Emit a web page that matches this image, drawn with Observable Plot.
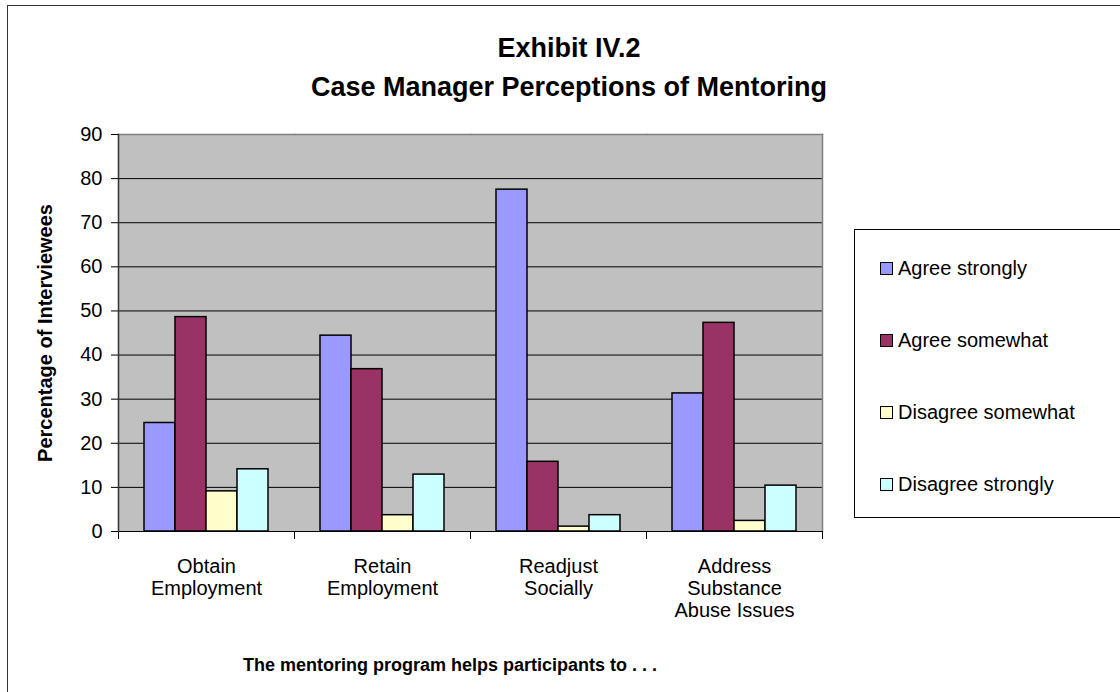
<!DOCTYPE html>
<html>
<head>
<meta charset="utf-8">
<script src="https://cdn.jsdelivr.net/npm/d3@7"></script>
<script src="https://cdn.jsdelivr.net/npm/@observablehq/plot@0.6"></script>
<style>
  html, body { margin: 0; padding: 0; background: #fff; }
  #wrap { position: relative; width: 1120px; height: 692px; overflow: hidden; font-family: "Liberation Sans", Arial, sans-serif; color: #000; }
  #border { position: absolute; left: 7px; top: 5px; width: 1200px; height: 800px; border: 1px solid #333; box-sizing: border-box; }
  #chart { position: absolute; left: 0; top: 0; }
  .title { position: absolute; left: 0; width: 1138px; text-align: center; font-weight: bold; font-size: 27px; line-height: 1; }
  #ylabel { position: absolute; left: 45px; top: 333px; transform: translate(-50%, -50%) rotate(-90deg); font-weight: bold; font-size: 20px; white-space: nowrap; }
  #xlabel { position: absolute; left: 0; width: 900px; top: 655px; text-align: center; font-weight: bold; font-size: 18px; white-space: nowrap; }
  #legend { position: absolute; left: 854px; top: 229px; width: 300px; height: 289px; border: 1px solid #000; box-sizing: border-box; background: #fff; }
  .item { position: absolute; left: 25px; height: 22px; display: flex; align-items: center; font-size: 20px; white-space: nowrap; }
  .sw { width: 13px; height: 13px; border: 1px solid #000; margin-right: 5px; box-sizing: border-box; }
</style>
</head>
<body>
<div id="wrap">
  <div id="border"></div>
  <div id="chart"></div>
  <div class="title" id="t1" style="top:35px"></div>
  <div class="title" id="t2" style="top:74px"></div>
  <div id="ylabel"></div>
  <div id="xlabel"></div>
  <div id="legend"></div>
</div>
<script>
const categories = ["Obtain\nEmployment", "Retain\nEmployment", "Readjust\nSocially", "Address\nSubstance\nAbuse Issues"];
const series = ["Agree strongly", "Agree somewhat", "Disagree somewhat", "Disagree strongly"];
const agreeStrongly = [24.6, 44.4, 77.5, 31.3];
const agreeSomewhat = [48.6, 36.8, 15.8, 47.3];
const disagreeSomewhat = [9.1, 3.7, 1.1, 2.4];
const disagreeStrongly = [14.1, 12.9, 3.7, 10.4];
const colors = ["#9999FF", "#993366", "#FFFFCC", "#CCFFFF"];
const yTicks = [0, 10, 20, 30, 40, 50, 60, 70, 80, 90];
const titleLines = ["Exhibit IV.2", "Case Manager Perceptions of Mentoring"];
const yLabel = "Percentage of Interviewees";
const xLabel = "The mentoring program helps participants to . . .";

const valuesBySeries = [agreeStrongly, agreeSomewhat, disagreeSomewhat, disagreeStrongly];
const data = [];
categories.forEach((c, i) => series.forEach((s, j) => data.push({category: c, series: s, value: valuesBySeries[j][i]})));

const plotH = 692 - 134 - 161;

const chart = Plot.plot({
  width: 1120,
  height: 692,
  marginLeft: 118,
  marginRight: 298,
  marginTop: 134,
  marginBottom: 161,
  style: {fontFamily: "'Liberation Sans', Arial, sans-serif", fontSize: "20px", color: "#000", background: "transparent"},
  fx: {domain: categories, padding: 0, label: null},
  x: {domain: series, paddingInner: 0, paddingOuter: 0.79, axis: null},
  y: {domain: [0, 90], label: null},
  color: {domain: series, range: colors},
  marks: [
    Plot.frame({fill: "#c0c0c0", stroke: "#c0c0c0", strokeWidth: 1}),
    Plot.ruleY(yTicks.filter(t => t > 0 && t < 90), {stroke: "#000", strokeWidth: 1}),
    Plot.frame({anchor: "top", stroke: "#808080", strokeWidth: 1.5}),
    Plot.frame({anchor: "right", facetAnchor: "right", stroke: "#808080", strokeWidth: 1.5}),
    Plot.barY(data, {fx: "category", x: "series", y: "value", fill: "series", stroke: "#000", strokeWidth: 1.5}),
    Plot.ruleY([0], {stroke: "#000", strokeWidth: 1}),
    Plot.frame({anchor: "left", insetTop: plotH, insetBottom: -7, stroke: "#000"}),
    Plot.frame({anchor: "right", facetAnchor: "right", insetTop: plotH, insetBottom: -7, stroke: "#000"}),
    Plot.frame({anchor: "left", facetAnchor: "left", stroke: "#333", strokeWidth: 1.5}),
    Plot.axisY(yTicks, {tickSize: 7, tickPadding: 9, label: null, stroke: "#000"}),
    Plot.axisFx({anchor: "bottom", tickSize: 0, tickPadding: 26, lineHeight: 1.1, label: null})
  ]
});
document.getElementById("chart").appendChild(chart);

document.getElementById("t1").textContent = titleLines[0];
document.getElementById("t2").textContent = titleLines[1];
document.getElementById("ylabel").textContent = yLabel;
document.getElementById("xlabel").textContent = xLabel;

const legend = document.getElementById("legend");
const rowTops = [27, 99, 171, 243];
series.forEach((s, j) => {
  const item = document.createElement("div");
  item.className = "item";
  item.style.top = rowTops[j] + "px";
  const sw = document.createElement("div");
  sw.className = "sw";
  sw.style.background = colors[j];
  const t = document.createElement("span");
  t.textContent = s;
  item.appendChild(sw);
  item.appendChild(t);
  legend.appendChild(item);
});
</script>
</body>
</html>
